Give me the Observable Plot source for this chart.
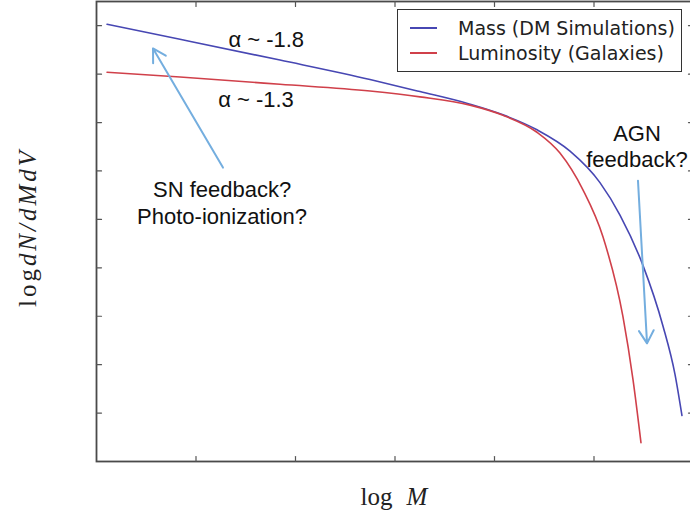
<!DOCTYPE html>
<html><head><meta charset="utf-8">
<script src="https://cdn.jsdelivr.net/npm/d3@7"></script>
<script src="https://cdn.jsdelivr.net/npm/@observablehq/plot@0.6"></script>
<style>
body{margin:0;background:#fff;}
#wrap{position:relative;width:690px;height:515px;overflow:hidden;background:#fff;}
#legend{position:absolute;left:397px;top:9px;width:283px;height:61px;border:1.5px solid #333;background:#fff;
  font-family:"DejaVu Sans",sans-serif;font-size:19px;color:#222;}
#legend .row{position:absolute;left:0;height:22px;display:flex;align-items:center;}
#legend .sw{display:inline-block;width:27px;height:2px;margin-left:12px;margin-right:21px;}
</style></head><body><div id="wrap"></div>
<script>
// ---- data (log M, log dN/dMdV in arbitrary units) ----
const massX = [0.106, 0.839, 1.844, 2.749, 3.251, 3.754, 4.085, 4.427, 4.759, 5.060, 5.261, 5.492, 5.693, 5.814, 5.884];
const massY = [9.03, 8.72, 8.29, 7.89, 7.64, 7.38, 7.16, 6.85, 6.41, 5.76, 5.09, 4.05, 2.80, 1.80, 0.95];
const lumX  = [0.106, 0.839, 1.844, 2.749, 3.251, 3.754, 4.085, 4.427, 4.658, 4.889, 5.090, 5.291, 5.392, 5.472];
const lumY  = [8.04, 7.94, 7.79, 7.65, 7.53, 7.36, 7.15, 6.80, 6.37, 5.61, 4.64, 2.99, 1.69, 0.39];
const seriesNames = ["Mass (DM Simulations)", "Luminosity (Galaxies)"];
const xTicks = [1, 2, 3, 4, 5];
const yTicks = [1, 2, 3, 4, 5, 6, 7, 8, 9];
const annotationTexts = ["α ~ -1.8", "α ~ -1.3", "SN feedback?", "Photo-ionization?", "AGN", "feedback?"];
const xLabel = ["log", "M"];
const yLabel = ["log", "dN/dMdV"];

// ---- layout / style ----
const colors = ["#4747b3", "#d0404a"];
const arrowColor = "#74aedf";
const annotationPos = [[1.706, 8.70], [1.603, 7.46], [1.262, 5.60], [1.262, 5.06], [5.432, 6.77], [5.432, 6.22]];
const arrowPos = [{x1: 1.271, y1: 6.07, x2: 0.568, y2: 8.53}, {x1: 5.442, y1: 5.80, x2: 5.533, y2: 2.44}];

const toRows = (xs, ys, s) => xs.map((x, i) => ({x, y: ys[i], series: s}));
const mass = toRows(massX, massY, seriesNames[0]);
const lum = toRows(lumX, lumY, seriesNames[1]);
const annotations = annotationTexts.map((t, i) => ({text: t, x: annotationPos[i][0], y: annotationPos[i][1]}));

const tickShape = {draw(ctx, l) { ctx.moveTo(0, 0); ctx.lineTo(0, -l); }};
const tickStyle = {length: 5, anchor: "start", shape: tickShape, stroke: "#555", strokeWidth: 1.2};

const chart = Plot.plot({
  width: 690, height: 515,
  marginLeft: 96, marginRight: -3, marginTop: 1, marginBottom: 54,
  x: {domain: [0, 6], axis: null},
  y: {domain: [0, 9.5], axis: null},
  marks: [
    Plot.frame({stroke: "#4a4a4a", strokeWidth: 1.8}),
    Plot.vector(xTicks, {x: d => d, y: 0, rotate: 0, ...tickStyle}),
    Plot.vector(xTicks, {x: d => d, y: 9.5, rotate: 180, ...tickStyle}),
    Plot.vector(yTicks, {x: 0, y: d => d, rotate: 90, ...tickStyle}),
    Plot.vector(yTicks, {x: 6, y: d => d, rotate: 270, ...tickStyle}),
    Plot.line(mass, {x: "x", y: "y", stroke: colors[0], strokeWidth: 1.6, curve: "monotone-x"}),
    Plot.line(lum, {x: "x", y: "y", stroke: colors[1], strokeWidth: 1.6, curve: "monotone-x"}),
    Plot.arrow(arrowPos, {x1: "x1", y1: "y1", x2: "x2", y2: "y2", stroke: arrowColor, strokeWidth: 2, headLength: 11}),
    Plot.text(annotations, {x: "x", y: "y", text: "text", fontSize: 22, fontFamily: "Liberation Sans, Arial, sans-serif", fill: "#111"})
  ]
});

const wrap = document.getElementById("wrap");
wrap.appendChild(chart);
const svg = d3.select(chart);

// x label
const xl = svg.append("text").attr("x", 394).attr("y", 505).attr("text-anchor", "middle")
  .attr("font-family", "Liberation Serif, DejaVu Serif, serif").attr("font-size", 25).attr("fill", "#222");
xl.append("tspan").text(xLabel[0]);
xl.append("tspan").attr("dx", 14).attr("font-style", "italic").text(xLabel[1]);

// y label
const yl = svg.append("text").attr("transform", "translate(36,229) rotate(-90)").attr("text-anchor", "middle")
  .attr("font-family", "Liberation Serif, DejaVu Serif, serif").attr("font-size", 25).attr("fill", "#222")
  .attr("textLength", 156).attr("lengthAdjust", "spacing");
yl.append("tspan").text(yLabel[0]);
yl.append("tspan").attr("font-style", "italic").text(yLabel[1]);

// legend
const legend = d3.select(wrap).append("div").attr("id", "legend");
seriesNames.forEach((name, i) => {
  const row = legend.append("div").attr("class", "row").style("top", (7 + i * 25) + "px");
  row.append("span").attr("class", "sw").style("background", colors[i]);
  row.append("span").text(name);
});
</script>
</body></html>
